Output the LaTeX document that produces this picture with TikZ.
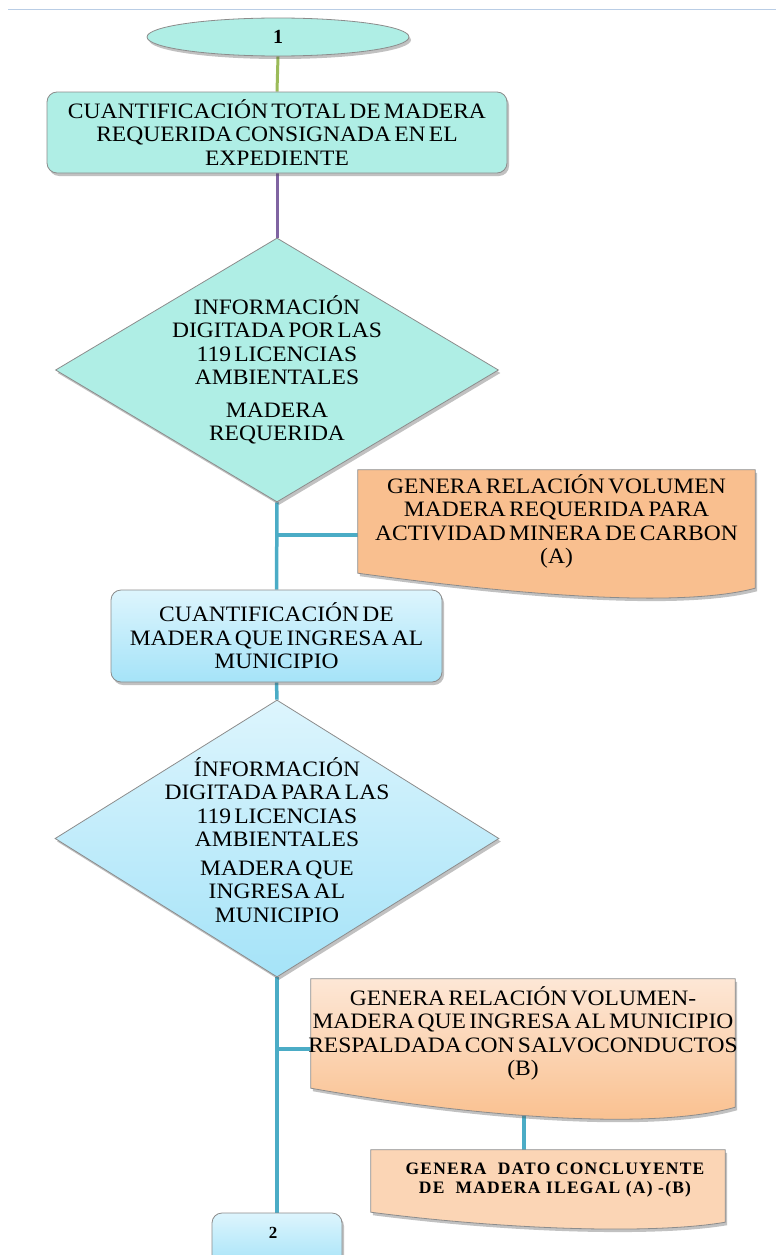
\documentclass[tikz,border=0pt]{standalone}
\usepackage{fontspec}
\setmainfont{Liberation Serif}[WordSpace=0.55]
\newfontfamily\widefont{Liberation Serif}[WordSpace=0.55,FakeStretch=1.07]
\newfontfamily\spacedfont{Liberation Serif}[LetterSpace=7]
\usetikzlibrary{shapes.geometric,shadows,calc}
\definecolor{tealfill}{HTML}{AFEEE5}
\definecolor{bluetop}{HTML}{DDF5FD}
\definecolor{bluebot}{HTML}{A5E3F8}
\definecolor{peachA}{HTML}{F9BF8F}
\definecolor{peachtop}{HTML}{FDE7D6}
\definecolor{peachbot}{HTML}{F9BE8B}
\definecolor{peachC}{HTML}{FBD5B5}
\definecolor{edgegray}{HTML}{8C8C8C}
\definecolor{linkblue}{HTML}{4BACC6}
\definecolor{linkgreen}{HTML}{9BBB59}
\definecolor{linkpurple}{HTML}{8064A2}
\definecolor{rulecol}{HTML}{B9CDE5}
\pgfdeclarelayer{bg}
\pgfsetlayers{bg,main}
\tikzset{
  shade/.style={drop shadow={shadow xshift=2pt,shadow yshift=-3pt,opacity=0.35,fill=black!70}},
  outline/.style={draw=edgegray,line width=0.8pt},
  txt/.style={font=\widefont\fontsize{22}{23.5}\selectfont,align=center,inner sep=0pt,text=black},
  tealbox/.style={outline,shade,fill=tealfill,rounded corners=10pt,inner sep=0pt},
  bluebox/.style={outline,shade,top color=bluetop,bottom color=bluebot,rounded corners=10pt,inner sep=0pt},
  diashape/.style={outline,shade,shape=diamond,inner sep=0pt},
  docframe/.style={draw=none,inner sep=0pt},
  link/.style={line width=3.5pt,linkblue},
}
\begin{document}
\begin{tikzpicture}[x=1pt,y=-1pt]
\useasboundingbox (0,0) rectangle (776,1255);
\draw[rulecol,line width=1pt] (8,10) -- (776,10);

% start ellipse
\node[outline,shade,fill=tealfill,shape=ellipse,minimum width=262pt,minimum height=38pt,inner sep=0pt,font=\fontsize{20}{22}\selectfont\bfseries] (e1) at (278,37) {1};

% box 1
\node[tealbox,txt,minimum width=460pt,minimum height=81pt] (b1) at (277,132.5)
  {CUANTIFICACIÓN TOTAL DE MADERA\\REQUERIDA CONSIGNADA EN EL\\EXPEDIENTE};

% diamond 1
\node[diashape,fill=tealfill,minimum width=443pt,minimum height=264pt] (d1) at (277,370) {};
\node[txt] (t1) at (277,370) {INFORMACIÓN\\DIGITADA POR LAS\\119 LICENCIAS\\AMBIENTALES\\[9pt]MADERA\\REQUERIDA};

% document A
\node[docframe,minimum width=397pt,minimum height=103pt] (docA) at (556.5,521.5) {};
\path[outline,shade,fill=peachA] (docA.north west) -- (docA.north east) -- ($(docA.south east)+(0,15)$)
  .. controls ($(docA.south east)+(-75,35)$) and ($(docA.south west)+(162,22)$) .. (docA.south west) -- cycle;
\node[txt] (tA) at (docA.center) {GENERA RELACIÓN VOLUMEN\\MADERA REQUERIDA PARA\\ACTIVIDAD MINERA DE CARBON\\(A)};

% box 2
\node[bluebox,txt,minimum width=331pt,minimum height=92pt] (b2) at (276.5,636)
  {CUANTIFICACIÓN DE\\MADERA QUE INGRESA AL\\MUNICIPIO};

% diamond 2
\node[diashape,top color=bluetop,bottom color=bluebot,minimum width=444pt,minimum height=277pt] (d2) at (277,838.5) {};
\node[txt] (t2) at (277,840) {ÍNFORMACIÓN\\DIGITADA PARA LAS\\119 LICENCIAS\\AMBIENTALES\\[5pt]MADERA QUE\\INGRESA AL\\MUNICIPIO};

% document B
\node[docframe,minimum width=424pt,minimum height=109pt] (docB) at (523,1033.5) {};
\path[outline,shade,top color=peachtop,bottom color=peachbot] (docB.north west) -- (docB.north east) -- ($(docB.south east)+(0,19)$)
  .. controls ($(docB.south east)+(-80,42)$) and ($(docB.south west)+(170,30)$) .. (docB.south west) -- cycle;
\node[txt] (tB) at (docB.center) {GENERA RELACIÓN VOLUMEN-\\MADERA QUE INGRESA AL MUNICIPIO\\RESPALDADA CON SALVOCONDUCTOS\\(B)};

% document C
\node[docframe,minimum width=354pt,minimum height=62pt] (docC) at (548,1181) {};
\path[outline,shade,fill=peachC] (docC.north west) -- (docC.north east) -- ($(docC.south east)+(0,10)$)
  .. controls ($(docC.south east)+(-70,22)$) and ($(docC.south west)+(140,18)$) .. (docC.south west) -- cycle;
\node[txt,font=\spacedfont\fontsize{17.5}{18.5}\selectfont\bfseries] (tC) at (555,1180) {GENERA\ \ DATO CONCLUYENTE\\DE\ \ MADERA ILEGAL (A) -(B)};

% box 3
\node[bluebox,minimum width=130pt,minimum height=54pt] (b3) at (277,1240) {};
\node[inner sep=0pt,font=\fontsize{17}{20}\selectfont\bfseries] (t3) at (273,1233) {2};

% connectors
\begin{pgfonlayer}{bg}
\draw[line width=3pt,linkgreen] (e1.south) -- (b1.north);
\draw[line width=3pt,linkpurple] (b1.south) -- (d1.north);
\draw[link] (d1.south) -- (b2.north);
\coordinate (jA) at (277,535);
\draw[link] (jA) -- (jA -| docA.west);
\draw[link] (b2.south) -- (d2.north);
\draw[link] (d2.south) -- (b3.north);
\coordinate (jB) at (277,1049);
\draw[link] (jB) -- (jB -| docB.west);
\coordinate (wB) at (524,1110);
\draw[link] (wB) -- (wB |- docC.north);
\end{pgfonlayer}
\end{tikzpicture}
\end{document}
